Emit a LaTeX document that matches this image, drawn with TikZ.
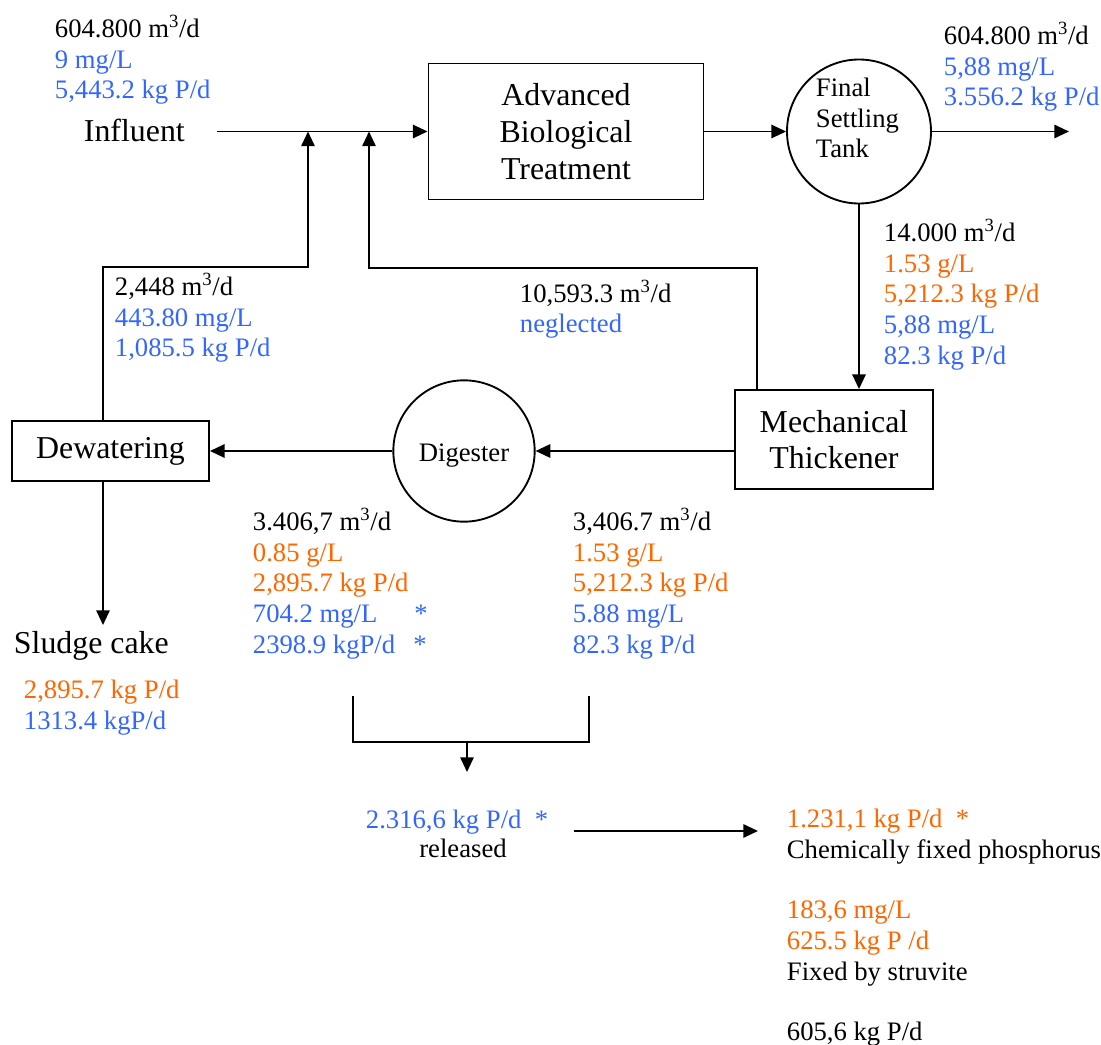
\documentclass[tikz,border=0pt]{standalone}
\usepackage{fontspec}
\setmainfont{Liberation Serif}
\usetikzlibrary{arrows.meta}
\definecolor{pblue}{RGB}{51,102,255}
\definecolor{porange}{RGB}{255,102,0}
\tikzset{
  flow/.style={-{Triangle[length=11pt,width=10pt]}},
  unit/.style={draw,inner sep=0pt},
  tank/.style={circle,draw,inner sep=0pt,align=left,font=\fontsize{20}{22.9}\selectfont},
  data/.style={anchor=base west,inner sep=0pt,align=left,font=\fontsize{20}{22.9}\selectfont},
  big/.style={inner sep=0pt,align=center,font=\fontsize{23.9}{27.5}\selectfont},
}
\newcommand{\mcube}{m\textsuperscript{3}/d}
\begin{document}
\begin{tikzpicture}[x=0.75pt,y=-0.75pt,line width=1.4pt]
\useasboundingbox (0,0) rectangle (1101,1045);

\node[unit,big,minimum width=206.25pt,minimum height=102pt] (abt) at (566,131.5) {Advanced\\Biological\\Treatment};
\node[tank,minimum size=108pt] (fst) at (859,131.5) {};
\node[data] (fstname) at (815,158) {Final\\Settling\\Tank};
\node[unit,big,minimum width=148.5pt,minimum height=74.25pt] (mt) at (834,439.5) {Mechanical\\Thickener};
\node[tank,minimum size=106pt] (dig) at (464,451) {};
\node[data,anchor=base] (digname) at (464,461) {Digester};
\node[unit,big,minimum width=147.75pt,minimum height=45pt] (dew) at (110.5,451) {Dewatering};

\node[big,anchor=base west] (infl) at (83,142) {Influent};
\node[big,anchor=base west] (cake) at (13,653) {Sludge cake};

\node[data] (qin) at (54,99) {604.800 \mcube\\\textcolor{pblue}{9 mg/L}\\\textcolor{pblue}{5,443.2 kg P/d}};
\node[data] (qout) at (943,106) {604.800 \mcube\\\textcolor{pblue}{5,88 mg/L}\\\textcolor{pblue}{3.556.2 kg P/d}};
\node[data] (qwas) at (883,364) {14.000 \mcube\\\textcolor{porange}{1.53 g/L}\\\textcolor{porange}{5,212.3 kg P/d}\\\textcolor{pblue}{5,88 mg/L}\\\textcolor{pblue}{82.3 kg P/d}};
\node[data] (qrec) at (114,357) {2,448 \mcube\\\textcolor{pblue}{443.80 mg/L}\\\textcolor{pblue}{1,085.5 kg P/d}};
\node[data] (qthk) at (519,333) {10,593.3 \mcube\\\textcolor{pblue}{neglected}};
\node[data] (qdig) at (252,653) {3.406,7 \mcube\\\textcolor{porange}{0.85 g/L}\\\textcolor{porange}{2,895.7 kg P/d}\\\textcolor{pblue}{704.2 mg/L}\\\textcolor{pblue}{2398.9 kgP/d}};
\node[data,anchor=base,pblue] (astA) at (421,622) {*};
\node[data,anchor=base,pblue] (astB) at (420,653) {*};
\node[data] (qfeed) at (572,653) {3,406.7 \mcube\\\textcolor{porange}{1.53 g/L}\\\textcolor{porange}{5,212.3 kg P/d}\\\textcolor{pblue}{5.88 mg/L}\\\textcolor{pblue}{82.3 kg P/d}};
\node[data] (qcake) at (23,729) {\textcolor{porange}{2,895.7 kg P/d}\\\textcolor{pblue}{1313.4 kgP/d}};
\node[data,pblue] (qrel) at (365,828) {2.316,6 kg P/d\ \ *};
\node[data,anchor=base] (rel) at (463,857) {released};
\node[data] (qfix) at (786,858.5) {\textcolor{porange}{1.231,1 kg P/d\ \ *}\\Chemically fixed phosphorus};
\node[data] (qstru) at (786,980) {\textcolor{porange}{183,6 mg/L}\\\textcolor{porange}{625.5 kg P /d}\\Fixed by struvite};
\node[data] (qrest) at (786,1040) {605,6 kg P/d};

\coordinate (inlet) at (217,131.5);
\coordinate (outlet) at (1069,131.5);
\coordinate (ret1) at (308,131.5);
\coordinate (ret2) at (369,131.5);
\coordinate (dleg) at (103,267);
\coordinate (rleg) at (757,268);
\coordinate (cakein) at (103,625);
\coordinate (bl) at (353,696);
\coordinate (br) at (589,696);
\coordinate (bmid) at (467,742);
\coordinate (btip) at (467,772);
\coordinate (fixa) at (574,831);
\coordinate (fixb) at (758,831);

\draw[flow] (inlet) -- (abt.west);
\draw[flow] (abt.east) -- (fst.west);
\draw[flow] (fst.east) -- (outlet);
\draw[flow] (fst.south) -- (fst.south |- mt.north);
\draw[flow] (mt.west |- dig.east) -- (dig.east);
\draw[flow] (dig.west) -- (dig.west -| dew.east);
\draw[flow] (dew.north -| dleg) -- (dleg) -| (ret1);
\draw[flow] (mt.north -| rleg) -- (rleg) -| (ret2);
\draw[flow] (dew.south -| dleg) -- (cakein);
\draw (bl) |- (bmid) -| (br);
\draw[flow] (bmid) -- (btip);
\draw[flow] (fixa) -- (fixb);
\end{tikzpicture}
\end{document}
